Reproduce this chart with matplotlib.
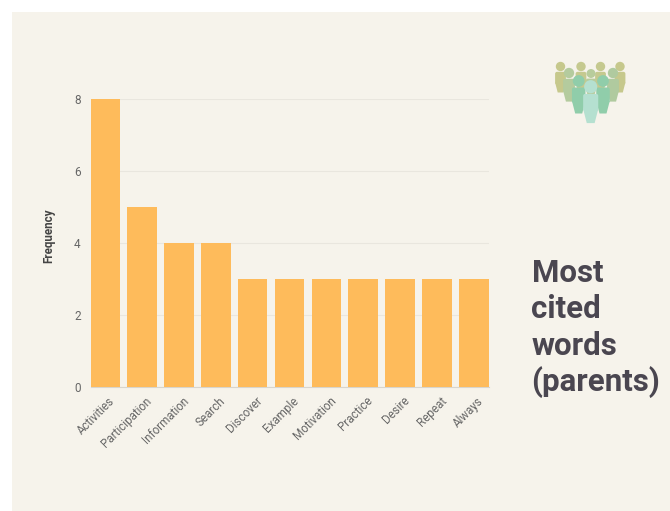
"""Bar chart of the most cited words, with a small people icon."""

import matplotlib

matplotlib.use("Agg", force=True)

import matplotlib.pyplot as plt
from matplotlib.patches import Circle, FancyBboxPatch, Polygon, Rectangle
from matplotlib.transforms import ScaledTranslation

WIDTH = 670
HEIGHT = 511
PANEL = "#f6f3eb"

words = [
    "Activities", "Participation", "Information", "Search", "Discover", "Example",
    "Motivation", "Practice", "Desire", "Repeat", "Always",
]
frequency = [8, 5, 4, 4, 3, 3, 3, 3, 3, 3, 3]
y_ticks = [0, 2, 4, 6, 8]
title_lines = ["Most", "cited", "words", "(parents)"]

# icon figures, back row first: x, head y, scale, colour
people = [
    (560.5, 66.5, 1.0, "#c6c88c"),
    (581, 66.5, 1.0, "#c5c98f"),
    (600.5, 66.5, 1.0, "#c5c98f"),
    (620, 66.5, 1.0, "#c6c88c"),
    (591, 73.5, 0.95, "#b8cc9c"),
    (569, 73, 1.1, "#b4cb9e"),
    (613, 73, 1.1, "#b0ca9f"),
    (578.7, 81, 1.25, "#90cdaa"),
    (603, 81, 1.25, "#90cdaa"),
    (590.7, 86.7, 1.4, "#b5e0d0"),
]


def px_axes(fig, left, top, right, bottom):
    return fig.add_axes([
        left / WIDTH,
        1 - bottom / HEIGHT,
        (right - left) / WIDTH,
        (bottom - top) / HEIGHT,
    ])


def draw_person(ax, x, y, scale, color):
    head = 4.7 * scale
    half = 5.4 * scale
    top = y + head + 0.6
    hip = y + 16 * scale
    foot = y + 26 * scale
    ax.add_patch(Circle((x, y), head, fc=color, ec="none"))
    ax.add_patch(FancyBboxPatch(
        (x - half + 2, top + 2), 2 * half - 4, hip - top - 2,
        boxstyle="round,pad=2", fc=color, ec="none",
    ))
    ax.add_patch(Polygon(
        [(x - half, hip), (x + half, hip), (x + 2.8 * scale, foot), (x - 2.8 * scale, foot)],
        closed=True, fc=color, ec="none",
    ))


fig = plt.figure(figsize=(WIDTH / 100, HEIGHT / 100), dpi=100, facecolor="white")

# backdrop panel and icon share a pixel-coordinate layer
bg = fig.add_axes([0, 0, 1, 1])
bg.set_xlim(0, WIDTH)
bg.set_ylim(HEIGHT, 0)
bg.axis("off")
bg.add_patch(Rectangle((12, 12), WIDTH - 12, HEIGHT - 12, fc=PANEL, ec="none"))
for x, y, scale, color in people:
    draw_person(bg, x, y, scale, color)

ax = px_axes(fig, 90.5, 99, 488.5, 387)
ax.patch.set_alpha(0)
ax.bar(range(len(words)), frequency, width=0.8, color="#febb5b", zorder=3)
ax.set_xlim(-0.4, len(words) - 0.6)
ax.set_ylim(0, 8)
ax.set_yticks(y_ticks)
ax.set_xticks(range(len(words)))
ax.set_xticklabels(
    words, rotation=45, ha="right", va="top", rotation_mode="anchor",
    fontsize=8.4, color="#666666", family="Roboto",
)
ax.tick_params(axis="both", length=0)
ax.tick_params(axis="x", pad=6)
ax.tick_params(axis="y", pad=7, labelsize=8.5, labelcolor="#666666")
nudge = ScaledTranslation(3 / 100, 1 / 100, fig.dpi_scale_trans)
for label in ax.get_xticklabels():
    label.set_transform(label.get_transform() + nudge)
for label in ax.get_yticklabels():
    label.set_family("Roboto")
ax.grid(True, axis="y", color="#e9e6de", linewidth=0.8, zorder=0)
ax.set_axisbelow(True)
for side in ("top", "right", "left"):
    ax.spines[side].set_visible(False)
ax.spines["bottom"].set_color("#d8d5cd")
ax.spines["bottom"].set_linewidth(0.8)

fig.text(
    48.5 / WIDTH, 1 - 236 / HEIGHT, "Frequency", rotation=90, ha="center", va="center",
    fontsize=8.4, fontweight="bold", color="#444444", family="Roboto",
)

for i, line in enumerate(title_lines):
    fig.text(
        531.5 / WIDTH, 1 - (273 + i * 36.3) / HEIGHT, line, ha="left", va="center",
        fontsize=22.5, fontweight="bold", color="#4a4650", family="Roboto",
    )

fig.savefig("out.png", dpi=100, facecolor="white")
